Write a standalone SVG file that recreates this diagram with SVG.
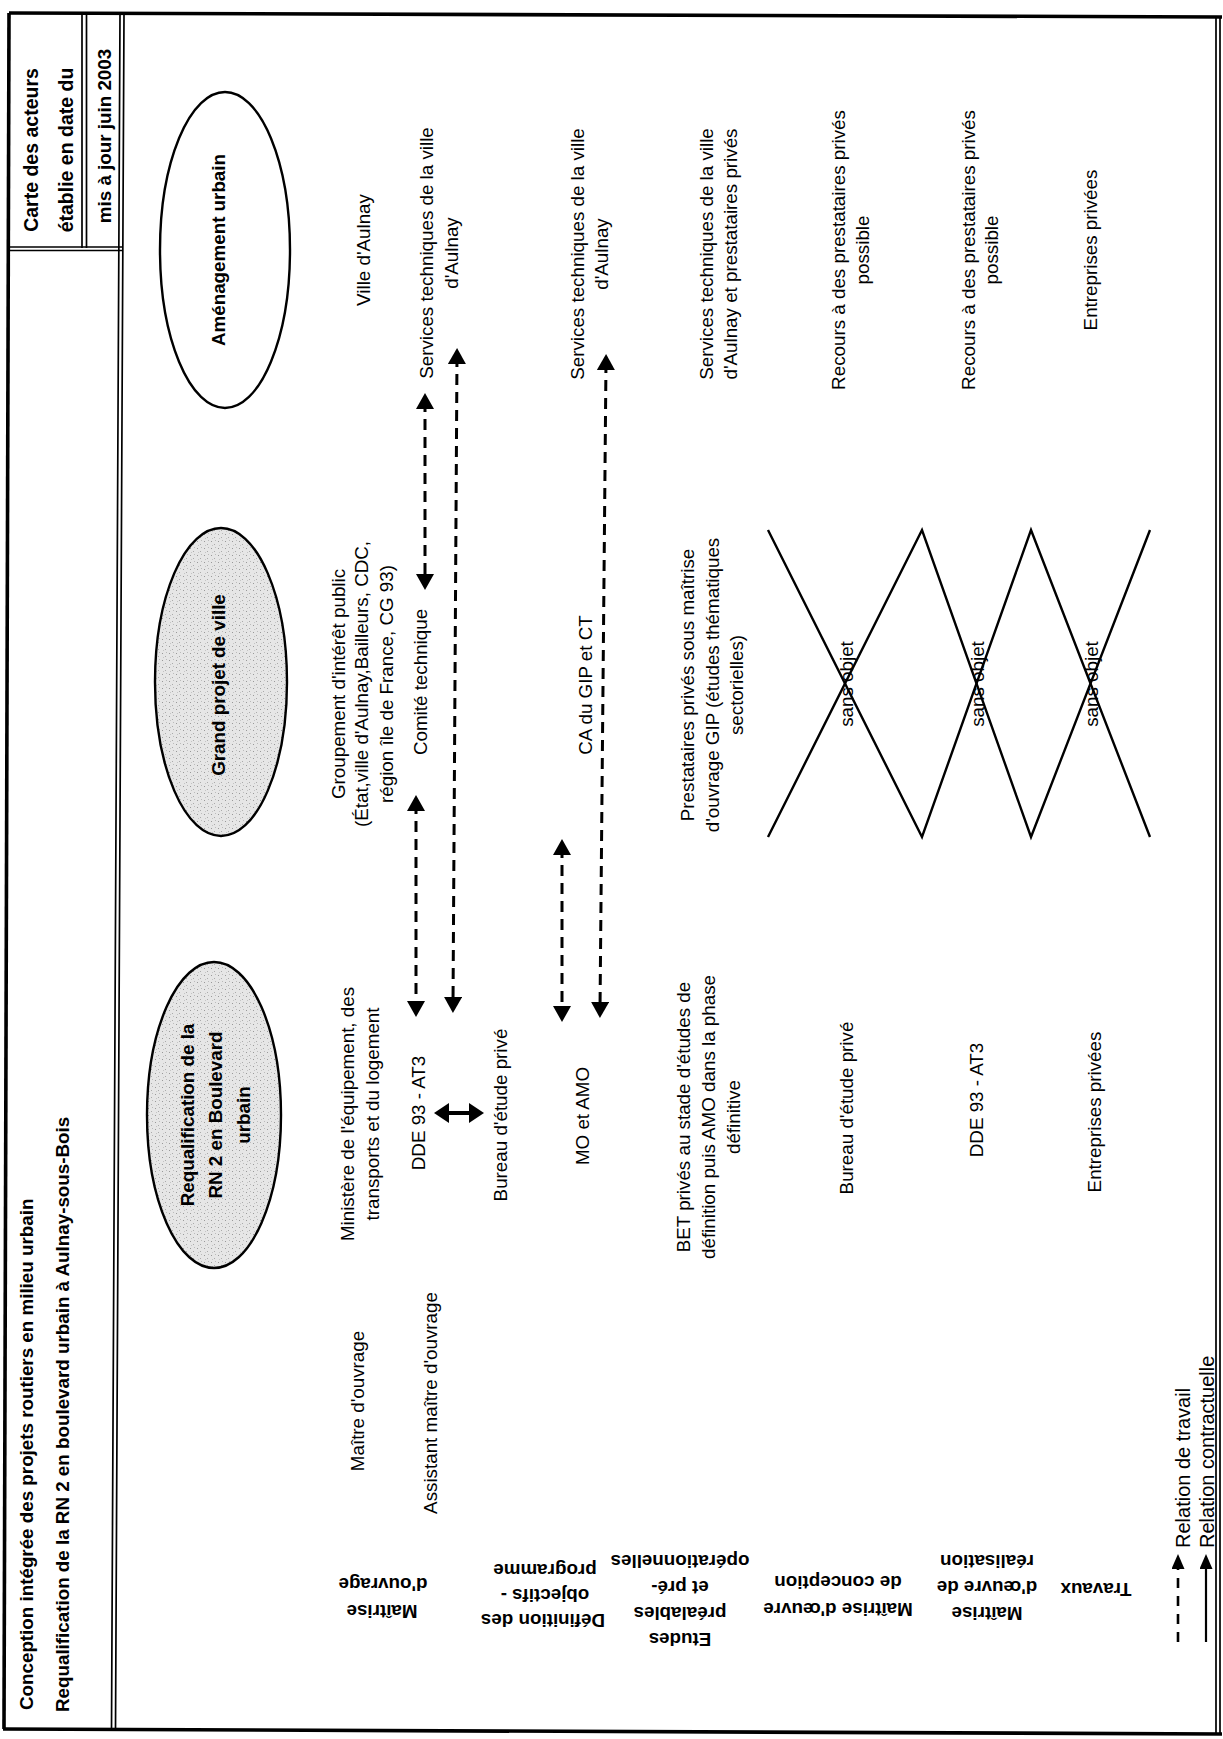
<svg xmlns="http://www.w3.org/2000/svg" width="1223" height="1739" viewBox="0 0 1223 1739">
<style>
.t{font-family:"Liberation Sans",Arial,sans-serif;font-size:18.8px;text-anchor:middle;fill:#000}
.b{font-weight:bold}
.st{text-anchor:start}
.fr{stroke:#000;fill:none;stroke-width:3.6}
.fd{stroke:#000;fill:none;stroke-width:1.7}
.el{stroke:#000;stroke-width:2.4}
.dash{stroke:#000;stroke-width:3;fill:none;stroke-dasharray:11 7}
.x{stroke:#000;stroke-width:2.4;fill:none}
</style>
<defs>
<marker id="ah" viewBox="0 0 16 18" refX="8" refY="9" markerWidth="16" markerHeight="18" markerUnits="userSpaceOnUse" orient="auto-start-reverse"><path d="M0,0L16,9L0,18z" fill="#000"/></marker>
<marker id="ahb" viewBox="0 0 15 20" refX="7" refY="10" markerWidth="15" markerHeight="20" markerUnits="userSpaceOnUse" orient="auto-start-reverse"><path d="M0,0L15,10L0,20z" fill="#000"/></marker>
<marker id="ahl" viewBox="0 0 15 13" refX="7" refY="6.5" markerWidth="15" markerHeight="13" markerUnits="userSpaceOnUse" orient="auto-start-reverse"><path d="M0,0L15,6.5L0,13z" fill="#000"/></marker>
<pattern id="stip" width="7" height="7" patternUnits="userSpaceOnUse"><rect width="7" height="7" fill="#e6e6e6"/><rect x="1" y="2" width="1" height="1" fill="#999"/><rect x="4" y="5" width="1" height="1" fill="#aaa"/><rect x="5" y="1" width="1" height="1" fill="#bbb"/><rect x="2" y="6" width="1" height="1" fill="#c4c4c4"/></pattern>
</defs>
<rect width="1223" height="1739" fill="#fff"/>

<g id="frame">
<path class="fr" d="M9,13 L1222,17"/>
<path class="fr" d="M3,1729 L1222,1734"/>
<path class="fr" d="M9,13 L4,1729"/>
<path class="fd" d="M1216,17 L1216,1734 M1220,17 L1220,1734"/>
<path class="fd" d="M120,14 L111.5,1729 M124,14 L115.5,1729"/>
<path class="fd" d="M9,247 L122,247 M9,250.5 L122,250.5"/>
<path class="fd" d="M82,14 L82,248 M86.5,14 L86.5,248"/>
</g>

<g id="header">
<text class="t b" transform="translate(31,150) rotate(-90)" dy="0.35em" style="font-size:19.5px">Carte des acteurs</text>
<text class="t b" transform="translate(66,150) rotate(-90)" dy="0.35em" style="font-size:19.5px">établie en date du</text>
<text class="t b" transform="translate(104,136) rotate(-90)" dy="0.35em">mis à jour juin 2003</text>
<text class="t b st" transform="translate(26,1710) rotate(-90)" dy="0.35em">Conception intégrée des projets routiers en milieu urbain</text>
<text class="t b st" transform="translate(62,1712) rotate(-90)" dy="0.35em">Requalification de la RN 2 en boulevard urbain à Aulnay-sous-Bois</text>
</g>

<g id="row-labels">
<g id="lbl-mo"><text class="t b" transform="translate(382,1612) rotate(180)" dy="0.35em">Maîtrise</text><text class="t b" transform="translate(383,1585) rotate(180)" dy="0.35em">d'ouvrage</text></g>
<g id="lbl-def"><text class="t b" transform="translate(543,1621) rotate(180)" dy="0.35em">Définition des</text><text class="t b" transform="translate(545,1596) rotate(180)" dy="0.35em">objectifs -</text><text class="t b" transform="translate(545,1571) rotate(180)" dy="0.35em">programme</text></g>
<g id="lbl-etudes"><text class="t b" transform="translate(680,1640) rotate(180)" dy="0.35em">Etudes</text><text class="t b" transform="translate(680,1614) rotate(180)" dy="0.35em">préalables</text><text class="t b" transform="translate(680,1588) rotate(180)" dy="0.35em">et pré-</text><text class="t b" transform="translate(680,1562) rotate(180)" dy="0.35em">opérationnelles</text></g>
<g id="lbl-moec"><text class="t b" transform="translate(838,1610) rotate(180)" dy="0.35em">Maîtrise d'œuvre</text><text class="t b" transform="translate(838,1583) rotate(180)" dy="0.35em">de conception</text></g>
<g id="lbl-moer"><text class="t b" transform="translate(987,1614) rotate(180)" dy="0.35em">Maîtrise</text><text class="t b" transform="translate(987,1588) rotate(180)" dy="0.35em">d'œuvre de</text><text class="t b" transform="translate(987,1562) rotate(180)" dy="0.35em">réalisation</text></g>
<g id="lbl-trav"><text class="t b" transform="translate(1096,1590) rotate(180)" dy="0.35em">Travaux</text></g>
</g>

<g id="node-requalification">
<ellipse class="el" cx="214" cy="1115" rx="67" ry="153" fill="url(#stip)"/>
<text class="t b" transform="translate(187,1115) rotate(-90)" dy="0.35em">Requalification de la</text>
<text class="t b" transform="translate(215,1115) rotate(-90)" dy="0.35em">RN 2 en Boulevard</text>
<text class="t b" transform="translate(243,1115) rotate(-90)" dy="0.35em">urbain</text>
</g>
<g id="node-gpv">
<ellipse class="el" cx="221" cy="682" rx="66" ry="154" fill="url(#stip)"/>
<text class="t b" transform="translate(218,685) rotate(-90)" dy="0.35em">Grand projet de ville</text>
</g>
<g id="node-amenagement">
<ellipse class="el" cx="225" cy="250" rx="65" ry="158" fill="#fff"/>
<text class="t b" transform="translate(218,250) rotate(-90)" dy="0.35em">Aménagement urbain</text>
</g>

<g id="node-maitre-ouvrage"><text class="t" transform="translate(357,1401) rotate(-90)" dy="0.35em">Maître d'ouvrage</text></g>
<g id="node-assistant"><text class="t" transform="translate(430,1403) rotate(-90)" dy="0.35em">Assistant maître d'ouvrage</text></g>

<g id="node-ministere">
<text class="t" transform="translate(347,1114) rotate(-90)" dy="0.35em">Ministère de l'équipement, des</text>
<text class="t" transform="translate(372,1114) rotate(-90)" dy="0.35em">transports et du logement</text>
</g>
<g id="node-gip">
<text class="t" transform="translate(338,684) rotate(-90)" dy="0.35em">Groupement d'intérêt public</text>
<text class="t" transform="translate(361,684) rotate(-90)" dy="0.35em">(État,ville d'Aulnay,Bailleurs, CDC,</text>
<text class="t" transform="translate(386,684) rotate(-90)" dy="0.35em">région île de France, CG 93)</text>
</g>
<g id="node-ville"><text class="t" transform="translate(363,250) rotate(-90)" dy="0.35em">Ville d'Aulnay</text></g>

<g id="node-dde1"><text class="t" transform="translate(418,1113) rotate(-90)" dy="0.35em">DDE 93 - AT3</text></g>
<g id="node-comite"><text class="t" transform="translate(420,682) rotate(-90)" dy="0.35em">Comité technique</text></g>
<g id="node-services1">
<text class="t" transform="translate(426,253) rotate(-90)" dy="0.35em">Services techniques de la ville</text>
<text class="t" transform="translate(451,253) rotate(-90)" dy="0.35em">d'Aulnay</text>
</g>
<g id="node-bureau1"><text class="t" transform="translate(500,1115) rotate(-90)" dy="0.35em">Bureau d'étude privé</text></g>

<g id="node-moamo"><text class="t" transform="translate(582,1116) rotate(-90)" dy="0.35em">MO et AMO</text></g>
<g id="node-ca"><text class="t" transform="translate(585,685) rotate(-90)" dy="0.35em">CA du GIP et CT</text></g>
<g id="node-services2">
<text class="t" transform="translate(577,254) rotate(-90)" dy="0.35em">Services techniques de la ville</text>
<text class="t" transform="translate(601,254) rotate(-90)" dy="0.35em">d'Aulnay</text>
</g>

<g id="node-bet">
<text class="t" transform="translate(683,1117) rotate(-90)" dy="0.35em">BET privés au stade d'études de</text>
<text class="t" transform="translate(708,1117) rotate(-90)" dy="0.35em">définition puis AMO dans la phase</text>
<text class="t" transform="translate(733,1117) rotate(-90)" dy="0.35em">définitive</text>
</g>
<g id="node-prestataires">
<text class="t" transform="translate(687,685) rotate(-90)" dy="0.35em">Prestataires privés sous maîtrise</text>
<text class="t" transform="translate(712,685) rotate(-90)" dy="0.35em">d'ouvrage GIP (études thématiques</text>
<text class="t" transform="translate(736,685) rotate(-90)" dy="0.35em">sectorielles)</text>
</g>
<g id="node-services3">
<text class="t" transform="translate(706,254) rotate(-90)" dy="0.35em">Services techniques de la ville</text>
<text class="t" transform="translate(730,254) rotate(-90)" dy="0.35em">d'Aulnay et prestataires privés</text>
</g>

<g id="node-bureau2"><text class="t" transform="translate(846,1108) rotate(-90)" dy="0.35em">Bureau d'étude privé</text></g>
<g id="node-recours1">
<text class="t" transform="translate(838,250) rotate(-90)" dy="0.35em">Recours à des prestataires privés</text>
<text class="t" transform="translate(862,250) rotate(-90)" dy="0.35em">possible</text>
</g>
<g id="node-dde2"><text class="t" transform="translate(976,1100) rotate(-90)" dy="0.35em">DDE 93 - AT3</text></g>
<g id="node-recours2">
<text class="t" transform="translate(968,250) rotate(-90)" dy="0.35em">Recours à des prestataires privés</text>
<text class="t" transform="translate(991,250) rotate(-90)" dy="0.35em">possible</text>
</g>
<g id="node-entreprises1"><text class="t" transform="translate(1094,1112) rotate(-90)" dy="0.35em">Entreprises privées</text></g>
<g id="node-entreprises2"><text class="t" transform="translate(1090,250) rotate(-90)" dy="0.35em">Entreprises privées</text></g>

<g id="node-sans-objet">
<path class="x" d="M768,530 L922,837 L1031,530 L1150,837"/>
<path class="x" d="M768,837 L922,530 L1031,837 L1150,530"/>
<text class="t" transform="translate(846,684) rotate(-90)" dy="0.35em">sans objet</text>
<text class="t" transform="translate(977,684) rotate(-90)" dy="0.35em">sans objet</text>
<text class="t" transform="translate(1091,684) rotate(-90)" dy="0.35em">sans objet</text>
</g>

<g id="connectors">
<path class="dash" d="M425,401 L425,582" marker-start="url(#ah)" marker-end="url(#ah)"/>
<path class="dash" d="M416,803 L416,1009" marker-start="url(#ah)" marker-end="url(#ah)"/>
<path class="dash" d="M457,356 L453,1005" marker-start="url(#ah)" marker-end="url(#ah)"/>
<path class="dash" d="M562,847 L562,1014" marker-start="url(#ah)" marker-end="url(#ah)"/>
<path class="dash" d="M606,362 L600,1010" marker-start="url(#ah)" marker-end="url(#ah)"/>
<path d="M442,1113 L476,1113" stroke="#000" stroke-width="4" marker-start="url(#ahb)" marker-end="url(#ahb)"/>
</g>

<g id="legend">
<path d="M1178,1642 L1178,1562" stroke="#000" stroke-width="2.6" stroke-dasharray="10 8" marker-end="url(#ahl)"/>
<path d="M1206,1642 L1206,1562" stroke="#000" stroke-width="2.2" marker-end="url(#ahl)"/>
<text class="t st" transform="translate(1183,1548) rotate(-90)" dy="0.35em" style="font-size:20px">Relation de travail</text>
<text class="t st" transform="translate(1207,1548) rotate(-90)" dy="0.35em" style="font-size:20px">Relation contractuelle</text>
</g>
</svg>
